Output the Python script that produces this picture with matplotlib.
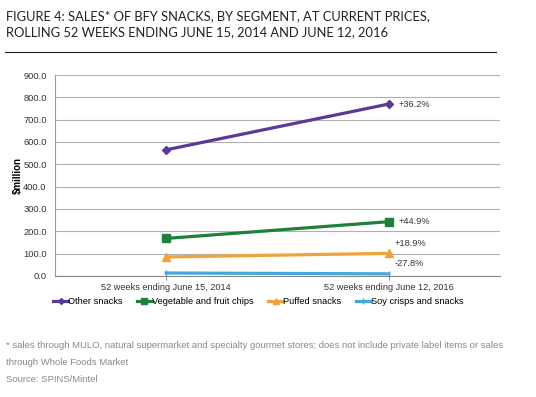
import matplotlib.pyplot as plt

plt.rcParams['font.family'] = ['Liberation Sans', 'DejaVu Sans']

periods = ["52 weeks ending June 15, 2014", "52 weeks ending June 12, 2016"]
series = ["Other snacks", "Vegetable and fruit chips", "Puffed snacks", "Soy crisps and snacks"]
other = [565.0, 770.0]
veg = [168.0, 243.0]
puffed = [85.0, 101.0]
soy = [13.0, 9.4]
changes = ["+36.2%", "+44.9%", "+18.9%", "-27.8%"]
yticks = [0, 100, 200, 300, 400, 500, 600, 700, 800, 900]

colors = ["#5a3a96", "#1f7f3c", "#f0a33a", "#45a8d8"]
markers = ["D", "s", "^", "|"]
msizes = [4, 6, 6, 5]

fig = plt.figure(figsize=(5.36, 3.97), dpi=100)
ax = fig.add_axes([0.1026, 0.305, 0.83, 0.506])

x = list(range(len(periods)))
handles = []
for vals, c, m, ms, lab in zip([other, veg, puffed, soy], colors, markers, msizes, series):
    h, = ax.plot(x, vals, color=c, lw=2.3, marker=m, ms=ms, mec=c, mfc=c, label=lab)
    handles.append(h)

# change labels
lab_kw = dict(fontsize=6.7, color="#333333", textcoords="offset points", ha="left")
ax.annotate(changes[0], (1, other[1]), xytext=(7, 0), va="center", **lab_kw)
ax.annotate(changes[1], (1, veg[1]), xytext=(7, 0), va="center", **lab_kw)
ax.annotate(changes[2], (1, puffed[1]), xytext=(4, 4), va="bottom", **lab_kw)
ax.annotate(changes[3], (1, soy[1]), xytext=(4, 4), va="bottom", **lab_kw)

ax.set_xlim(-0.5, 1.5)
ax.set_ylim(0, 900)
ax.set_yticks(yticks)
ax.set_yticklabels([f"{v:.1f}" for v in yticks], fontsize=6.7, color="#333333")
ax.set_xticks(x)
ax.set_xticklabels(periods, fontsize=6.6, color="#333333")
ax.tick_params(axis="y", length=0, pad=6)
ax.tick_params(axis="x", length=3, color="#999999", pad=2)
ax.grid(axis="y", color="#b0b0b0", lw=0.8)
ax.set_axisbelow(True)
for s in ["top", "right"]:
    ax.spines[s].set_visible(False)
ax.spines["left"].set_color("#999999")
ax.spines["bottom"].set_color("#888888")
ax.set_ylabel("$million", fontsize=7, fontweight="bold", labelpad=0)

fig.legend(handles=handles, loc="center", bbox_to_anchor=(0.482, 0.24), ncol=4, frameon=False,
           fontsize=6.7, handlelength=1.6, handletextpad=0.05, columnspacing=1.5, markerscale=0.75)

fig.text(0.012, 0.975, "FIGURE 4: SALES* OF BFY SNACKS, BY SEGMENT, AT CURRENT PRICES,\nROLLING 52 WEEKS ENDING JUNE 15, 2014 AND JUNE 12, 2016",
         fontsize=9.3, family="Lato", va="top", ha="left", color="#222222", linespacing=1.4)
fig.add_artist(plt.Line2D([0.01, 0.925], [0.868, 0.868], color="#222222", lw=0.8))

fig.text(0.012, 0.13, "* sales through MULO, natural supermarket and specialty gourmet stores; does not include private label items or sales",
         fontsize=6.8, color="#888888", va="center")
fig.text(0.012, 0.087, "through Whole Foods Market", fontsize=6.8, color="#888888", va="center")
fig.text(0.012, 0.043, "Source: SPINS/Mintel", fontsize=6.8, color="#888888", va="center")

fig.savefig("out.png", dpi=100)
